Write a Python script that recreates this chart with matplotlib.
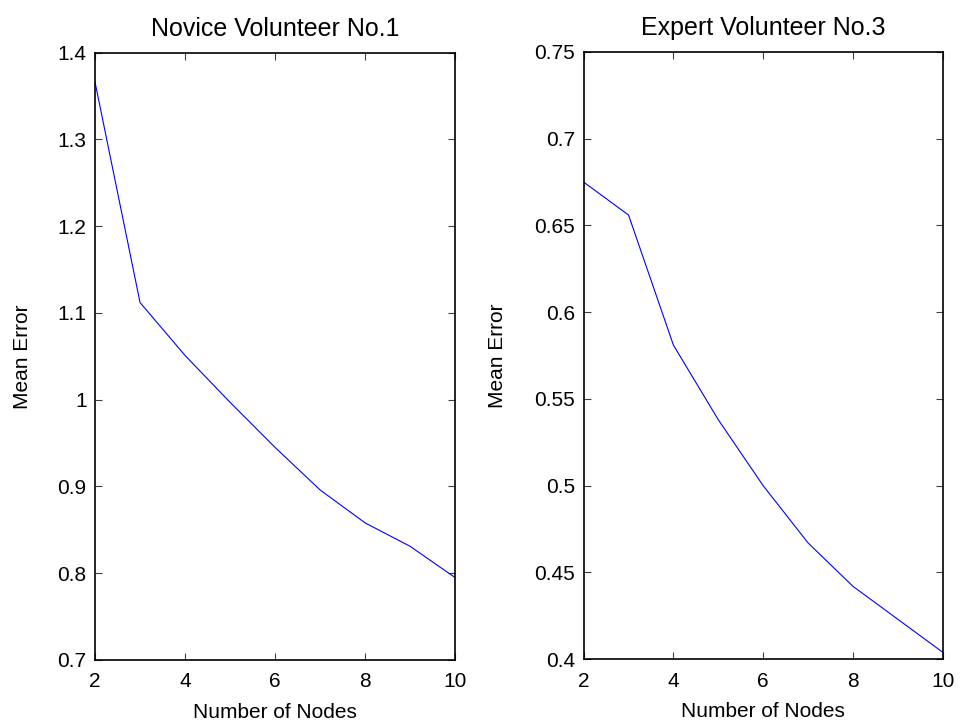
import matplotlib.pyplot as plt

plt.rcParams['font.family'] = ['Liberation Sans', 'DejaVu Sans']
plt.rcParams['font.size'] = 15

nodes = [2, 3, 4, 5, 6, 7, 8, 9, 10]
novice_err = [1.366, 1.112, 1.051, 0.997, 0.945, 0.896, 0.858, 0.831, 0.795]
expert_err = [0.675, 0.656, 0.581, 0.538, 0.500, 0.467, 0.442, 0.423, 0.404]

panels = [
    ("Novice Volunteer No.1", novice_err, (0.7, 1.4), [0.7, 0.8, 0.9, 1.0, 1.1, 1.2, 1.3, 1.4],
     ['0.7', '0.8', '0.9', '1', '1.1', '1.2', '1.3', '1.4'], -0.175),
    ("Expert Volunteer No.3", expert_err, (0.4, 0.75), [0.4, 0.45, 0.5, 0.55, 0.6, 0.65, 0.7, 0.75],
     ['0.4', '0.45', '0.5', '0.55', '0.6', '0.65', '0.7', '0.75'], -0.2145),
]

fig = plt.figure(figsize=(9.6, 7.22), dpi=100)
rects = [[0.099, 0.086, 0.375, 0.841], [0.608, 0.087, 0.374, 0.841]]

for rect, (title, err, ylim, yt, ytl, ylab_x) in zip(rects, panels):
    ax = fig.add_axes(rect)
    ax.plot(nodes, err, color='#0000ff', lw=0.8)
    ax.set_xlim(2, 10)
    ax.set_ylim(*ylim)
    ax.set_xticks([2, 4, 6, 8, 10])
    ax.set_yticks(yt)
    ax.set_yticklabels(ytl)
    ax.tick_params(direction='in', length=5, width=0.8, top=True, right=True,
                   color='#404040')
    ax.tick_params(axis='x', pad=9)
    ax.tick_params(axis='y', pad=6)
    for s in ax.spines.values():
        s.set_linewidth(1.2)
    ax.set_title(title, pad=12)
    ax.set_xlabel("Number of Nodes", labelpad=8)
    ax.set_ylabel("Mean Error")
    # label x is its right edge in axes fraction
    ax.yaxis.set_label_coords(ylab_x, 0.5)

fig.savefig("out.png", dpi=100)
